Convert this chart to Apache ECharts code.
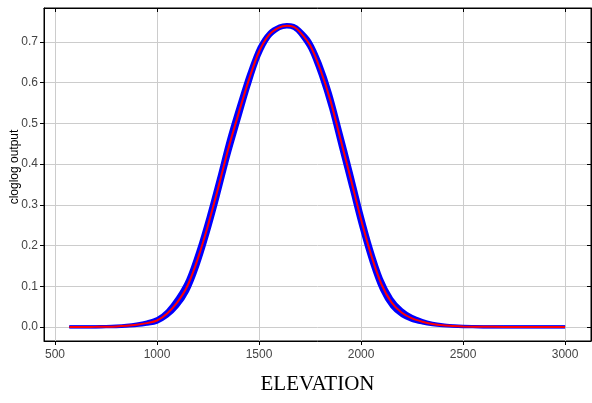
<!DOCTYPE html>
<html>
<head>
<meta charset="utf-8">
<script src="https://cdn.jsdelivr.net/npm/echarts@6/dist/echarts.min.js"></script>
<style>
  html, body { margin: 0; padding: 0; background: #fff; }
  #chart { width: 592px; height: 403px; }
</style>
</head>
<body>
<div id="chart"></div>
<script>
// Response of the cloglog output to elevation: mean (red) and mean +/- one standard deviation (blue)
const elevation = [570, 600, 650, 700, 750, 800, 850, 900, 950, 1000, 1050, 1100, 1150, 1200, 1250,
  1300, 1350, 1400, 1450, 1500, 1550, 1600, 1636, 1670, 1700, 1750, 1800, 1850, 1900, 1950,
  2000, 2050, 2100, 2150, 2200, 2250, 2300, 2350, 2400, 2450, 2500, 2600, 2700, 2800, 3000];
const meanOutput = [0.0000, 0.0001, 0.0002, 0.0004, 0.0008, 0.0015, 0.0030, 0.0055, 0.0095, 0.0160,
  0.0330, 0.0610, 0.1020, 0.1680, 0.2500, 0.3420, 0.4390, 0.5250, 0.6070, 0.6760, 0.7180, 0.7360,
  0.7400, 0.7370, 0.7250, 0.6920, 0.6330, 0.5560, 0.4600, 0.3630, 0.2640, 0.1760, 0.1050, 0.0600,
  0.0350, 0.0210, 0.0130, 0.0075, 0.0042, 0.0024, 0.0013, 0.0005, 0.0002, 0.0001, 0.0000];
const stdDev = [0.0003, 0.0003, 0.0003, 0.0004, 0.0005, 0.0008, 0.0012, 0.0020, 0.0030, 0.0045,
  0.0070, 0.0110, 0.0145, 0.0180, 0.0200, 0.0210, 0.0210, 0.0195, 0.0160, 0.0110, 0.0060, 0.0035,
  0.0030, 0.0035, 0.0055, 0.0100, 0.0150, 0.0185, 0.0205, 0.0210, 0.0200, 0.0175, 0.0140, 0.0105,
  0.0075, 0.0050, 0.0032, 0.0020, 0.0012, 0.0008, 0.0005, 0.0003, 0.0003, 0.0003, 0.0003];
const xTicksRange = [446, 3127];
const yTicksRange = [-0.0344, 0.7835];

const lowerLine = elevation.map((x, i) => [x, meanOutput[i] - stdDev[i]]);
const upperLine = elevation.map((x, i) => [x, meanOutput[i] + stdDev[i]]);
const meanLine = elevation.map((x, i) => [x, meanOutput[i]]);
const bandData = elevation.map((x, i) => [x, meanOutput[i] - stdDev[i], meanOutput[i] + stdDev[i]]);

const BLUE = '#0000ff';
const RED = '#ff0000';
const labelFont = { fontFamily: 'Liberation Sans, Arial, sans-serif', fontSize: 12, color: '#444' };

const chart = echarts.init(document.getElementById('chart'), null, { renderer: 'canvas' });

chart.setOption({
  animation: false,
  backgroundColor: '#fff',
  grid: { left: 44, right: 1, top: 8, bottom: 62, show: true, borderColor: '#000', borderWidth: 1, backgroundColor: '#fff' },
  xAxis: [{
    type: 'value', min: xTicksRange[0], max: xTicksRange[1], splitNumber: 5,
    axisLine: { show: true, onZero: false, lineStyle: { color: '#000', width: 1 } },
    axisTick: { show: true, inside: false, length: 4, lineStyle: { color: '#000' } },
    axisLabel: Object.assign({ margin: 8, showMinLabel: false, showMaxLabel: false, formatter: v => String(v) }, labelFont),
    splitLine: { show: true, lineStyle: { color: '#cccccc', width: 1 } },
    name: 'ELEVATION', nameLocation: 'middle', nameGap: 33,
    nameTextStyle: { fontFamily: 'Liberation Serif, Times New Roman, serif', fontSize: 21, color: '#000' }
  }, {
    type: 'value', position: 'top', min: xTicksRange[0], max: xTicksRange[1], splitNumber: 5,
    axisLine: { show: true, onZero: false, lineStyle: { color: '#000', width: 1 } },
    axisTick: { show: true, inside: true, length: 4, lineStyle: { color: '#000' } },
    axisLabel: { show: false }, splitLine: { show: false }
  }],
  yAxis: [{
    type: 'value', min: yTicksRange[0], max: yTicksRange[1], splitNumber: 8,
    axisLine: { show: true, onZero: false, lineStyle: { color: '#000', width: 1 } },
    axisTick: { show: true, inside: false, length: 4, lineStyle: { color: '#000' } },
    axisLabel: Object.assign({ margin: 6, showMinLabel: false, showMaxLabel: false, formatter: v => v.toFixed(1) }, labelFont),
    splitLine: { show: true, lineStyle: { color: '#cccccc', width: 1 } }
  }, {
    type: 'value', position: 'right', min: yTicksRange[0], max: yTicksRange[1], splitNumber: 8,
    axisLine: { show: true, onZero: false, lineStyle: { color: '#000', width: 1 } },
    axisTick: { show: true, inside: true, length: 4, lineStyle: { color: '#000' } },
    axisLabel: { show: false }, splitLine: { show: false }
  }],
  graphic: [{
    type: 'text', x: 15, y: 167, rotation: Math.PI / 2,
    style: { text: 'cloglog output', fontFamily: 'Liberation Sans, Arial, sans-serif', fontSize: 12, fill: '#000', align: 'center', verticalAlign: 'middle' }
  }],
  series: [
    {
      // filled band between mean - sd and mean + sd
      type: 'custom', name: 'band', data: bandData, z: 2,
      encode: { x: 0, y: [1, 2] },
      renderItem: function (params, api) {
        if (params.dataIndex !== 0) return null;
        const pts = [];
        for (let i = 0; i < bandData.length; i++) pts.push(api.coord([bandData[i][0], bandData[i][2]]));
        for (let i = bandData.length - 1; i >= 0; i--) pts.push(api.coord([bandData[i][0], bandData[i][1]]));
        return { type: 'polygon', shape: { points: pts }, style: { fill: BLUE, stroke: null } };
      }
    },
    { type: 'line', name: 'lower', data: lowerLine, showSymbol: false, smooth: 0.3, z: 3,
      lineStyle: { color: BLUE, width: 3 } },
    { type: 'line', name: 'upper', data: upperLine, showSymbol: false, smooth: 0.3, z: 3,
      lineStyle: { color: BLUE, width: 3 } },
    { type: 'line', name: 'mean', data: meanLine, showSymbol: false, smooth: 0.3, z: 4,
      lineStyle: { color: RED, width: 2 } }
  ]
});
</script>
</body>
</html>
